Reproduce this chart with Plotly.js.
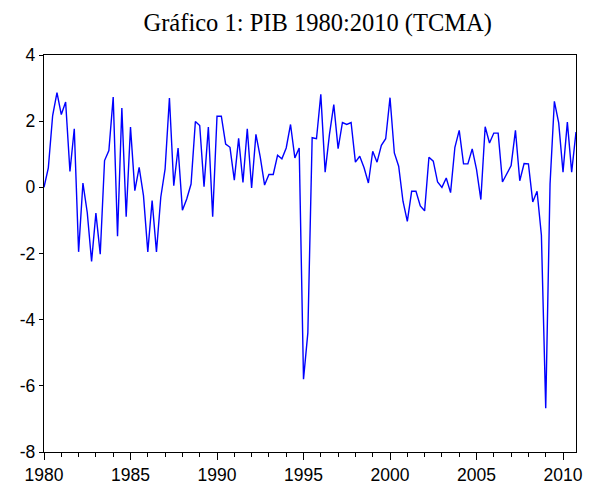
<!DOCTYPE html>
<html>
<head>
<meta charset="utf-8">
<script src="https://cdn.plot.ly/plotly-3.0.1.min.js"></script>
<style>html,body{margin:0;padding:0;background:#fff;}#chart{width:595px;height:486px;}</style>
</head>
<body>
<div id="chart"></div>
<script>
// Quarterly GDP growth (TCMA), 1980Q1 - 2010Q4
const startYear = 1980;
const pib = [
  0.00, 0.59, 2.17, 2.86,   // 1980
  2.20, 2.58, 0.48, 1.77,   // 1981
 -1.95, 0.13, -0.76, -2.24, // 1982
 -0.78, -2.02, 0.81, 1.11,  // 1983
  2.73, -1.48, 2.40, -0.89, // 1984
  1.82, -0.10, 0.60, -0.25, // 1985
 -1.95, -0.40, -1.95, -0.30,// 1986
  0.56, 2.70, 0.05, 1.19,   // 1987
 -0.69, -0.35, 0.10, 1.99,  // 1988
  1.87, 0.02, 1.82, -0.89,  // 1989
  2.15, 2.15, 1.31, 1.21,   // 1990
  0.22, 1.48, 0.15, 1.77,   // 1991
 -0.02, 1.60, 0.91, 0.07,   // 1992
  0.39, 0.39, 0.97, 0.86,   // 1993
  1.19, 1.90, 0.89, 1.19,   // 1994
 -5.80, -4.40, 1.50, 1.47,  // 1995
  2.81, 0.46, 1.60, 2.50,   // 1996
  1.17, 1.96, 1.90, 1.96,   // 1997
  0.76, 0.94, 0.59, 0.13,   // 1998
  1.09, 0.76, 1.27, 1.47,   // 1999
  2.71, 1.04, 0.64, -0.42,  // 2000
 -1.03, -0.12, -0.12, -0.56,// 2001
 -0.71, 0.91, 0.79, 0.16,   // 2002
  0.00, 0.28, -0.16, 1.21,  // 2003
  1.72, 0.71, 0.71, 1.16,   // 2004
  0.54, -0.37, 1.83, 1.34,  // 2005
  1.64, 1.64, 0.16, 0.40,   // 2006
  0.66, 1.72, 0.20, 0.72,   // 2007
  0.71, -0.44, -0.12, -1.45,// 2008
 -6.68, 0.10, 2.60, 1.95,   // 2009
  0.46, 1.97, 0.46, 1.67    // 2010
];
const xTickVals = [1980, 1985, 1990, 1995, 2000, 2005, 2010];
const xTickText = ["1980", "1985", "1990", "1995", "2000", "2005", "2010"];
const yTickVals = [-8, -6, -4, -2, 0, 2, 4];
const yTickText = ["-8", "-6", "-4", "-2", "0", "2", "4"];

const periods = pib.map((v, i) => startYear + i / 4);

const trace = {
  x: periods, y: pib, type: 'scatter', mode: 'lines',
  line: {color: '#0000ff', width: 1.4},
  hoverinfo: 'x+y'
};

const layout = {
  width: 595, height: 486,
  margin: {l: 44, r: 19, t: 55, b: 34},
  paper_bgcolor: '#ffffff', plot_bgcolor: '#ffffff',
  showlegend: false,
  font: {family: 'Liberation Sans, Arial, sans-serif', size: 17, color: '#000'},
  title: {
    text: 'Gráfico 1: PIB 1980:2010 (TCMA)',
    font: {family: 'Liberation Serif, Times New Roman, serif', size: 24.5, color: '#000'},
    xref: 'container', x: 0.534, xanchor: 'center',
    yref: 'container', y: 0.953, yanchor: 'middle'
  },
  xaxis: {
    range: [1980, 2010.75],
    tickvals: xTickVals, ticktext: xTickText,
    ticks: 'outside', ticklen: 7, tickwidth: 1, tickcolor: '#000',
    minor: {dtick: 1, tick0: 1980, ticks: 'outside', ticklen: 4, tickwidth: 1, tickcolor: '#000', showgrid: false},
    showgrid: false, zeroline: false,
    showline: true, linecolor: '#000', linewidth: 1.3, mirror: true,
    tickfont: {size: 17.5}
  },
  yaxis: {
    range: [-8, 4],
    tickvals: yTickVals, ticktext: yTickText,
    ticks: 'outside', ticklen: 4, tickwidth: 1, tickcolor: '#000',
    showgrid: false, zeroline: false,
    showline: true, linecolor: '#000', linewidth: 1.3, mirror: true,
    tickfont: {size: 17.5}
  }
};

Plotly.newPlot('chart', [trace], layout, {displayModeBar: false, staticPlot: true});
</script>
</body>
</html>
